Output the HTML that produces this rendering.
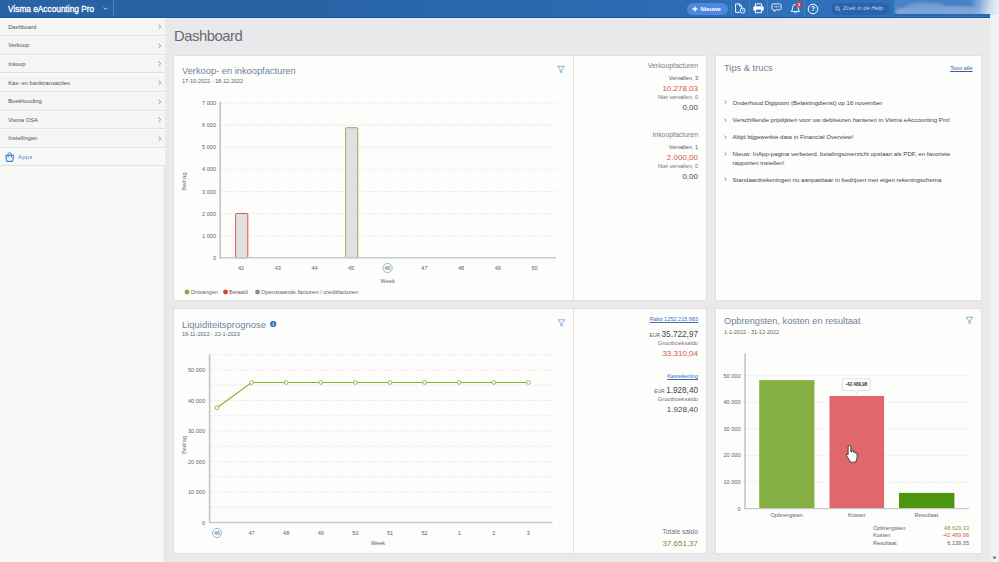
<!DOCTYPE html>
<html lang="nl">
<head>
<meta charset="utf-8">
<title>Visma eAccounting Pro - Dashboard</title>
<style>
*{box-sizing:border-box;margin:0;padding:0}
html,body{width:999px;height:562px;overflow:hidden}
body{position:relative;background:#e9e9eb;font-family:"Liberation Sans",sans-serif;color:#4a4a55;-webkit-font-smoothing:antialiased}
.abs{position:absolute}
/* top bar */
#top{position:absolute;left:0;top:0;width:990px;height:17.6px;background:linear-gradient(to right,#2861a4 0%,#2862a5 28%,#2a69ae 55%,#2e70ba 82%,#2f71bc 100%);border-bottom:1.8px solid #1156a8;overflow:hidden}
#brand{position:absolute;left:8px;top:3.6px;font-size:8.3px;color:#fff;-webkit-text-stroke:0.3px #fff;white-space:nowrap}
#brandsep{position:absolute;left:113px;top:0;width:1px;height:16px;background:#4f7fb9}
/* sidebar */
#side{position:absolute;left:0;top:17.5px;width:165px;height:545px;background:#f7f7f5;border-right:1px solid #e2e2e4}
.mi{position:absolute;left:0;width:165px;height:18.6px;border-bottom:1px solid #e1e1e3;border-top:1px solid #fbfbfb;background:#f5f5f3;font-size:5.75px;color:#53515b;padding-left:8.2px;line-height:17px;white-space:nowrap}
.mi svg{position:absolute;right:3.6px;top:5.6px}
/* cards */
.tsep{top:0;width:1px;height:16px;background:rgba(255,255,255,0.11)}
.card{position:absolute;background:#fdfdfb;border:1px solid #e0e0e2}
.ct{position:absolute;font-size:9.3px;color:#6f839f;white-space:nowrap;letter-spacing:0}
.cd{position:absolute;font-size:5.5px;color:#60606a;white-space:nowrap}
.r{position:absolute;right:0;white-space:nowrap;text-align:right}
svg text{font-family:"Liberation Sans",sans-serif}
</style>
</head>
<body>
<!-- TOPBAR -->
<div id="top">
  <div id="brand">Visma eAccounting Pro</div>
  <svg class="abs" style="left:102.6px;top:7.4px" width="5" height="3.4" viewBox="0 0 5 3.4"><path d="M0.7 0.6 L2.5 2.5 L4.3 0.6" fill="none" stroke="#d5e1f0" stroke-width="0.9"/></svg>
  <div id="brandsep"></div>
  <!-- Nieuwe button -->
  <div class="abs" style="left:687px;top:2.5px;width:41px;height:12.5px;border-radius:6.3px;background:#4c87e2"></div>
  <svg class="abs" style="left:691.5px;top:5.5px" width="6" height="6" viewBox="0 0 6 6"><path d="M3 0.4 V5.6 M0.4 3 H5.6" stroke="#fff" stroke-width="1.3" fill="none"/></svg>
  <div class="abs" style="left:700.6px;top:5.8px;font-size:5.9px;font-weight:bold;color:#fff;letter-spacing:-0.1px;white-space:nowrap">Nieuwe</div>
  <div class="abs tsep" style="left:730.5px"></div><div class="abs tsep" style="left:749px"></div><div class="abs tsep" style="left:767.3px"></div><div class="abs tsep" style="left:803.8px"></div>
  <!-- doc+clock icon -->
  <svg class="abs" style="left:734px;top:3px" width="13" height="11" viewBox="0 0 13 11"><path d="M1.6 0.9 H5.6 L7.6 2.9 V5.2 M1.6 0.9 V9.4 H5.6 M5.4 0.9 V3.1 H7.6" fill="none" stroke="#fff" stroke-width="0.95" stroke-linejoin="round"/><circle cx="8.6" cy="7.6" r="2.5" fill="#2c6db6" stroke="#fff" stroke-width="0.95"/><path d="M8.6 6.3 V7.7 H9.6" fill="none" stroke="#fff" stroke-width="0.7"/></svg>
  <!-- printer icon -->
  <svg class="abs" style="left:752px;top:3px" width="13" height="11" viewBox="0 0 13 11"><path d="M3.4 3.3 V0.9 H9.6 V3.3" fill="none" stroke="#fff" stroke-width="0.95"/><rect x="1.3" y="3.3" width="10.4" height="4.4" rx="1.2" fill="#fff"/><rect x="3.6" y="6.1" width="5.8" height="3.6" fill="#2c6db6" stroke="#fff" stroke-width="0.95"/></svg>
  <!-- chat icon -->
  <svg class="abs" style="left:771.3px;top:3.3px" width="11.9" height="10.1" viewBox="0 0 13 11"><path d="M2.4 1 H9.6 Q11 1 11 2.4 V6 Q11 7.4 9.6 7.4 H5.6 L3.6 9.6 V7.4 H2.4 Q1 7.4 1 6 V2.4 Q1 1 2.4 1 Z" fill="none" stroke="#fff" stroke-width="0.95" stroke-linejoin="round"/><path d="M3.4 4.2 H8.6" stroke="#dbe7f6" stroke-width="1.1" stroke-dasharray="1.4 0.5"/></svg>
  <!-- bell icon -->
  <svg class="abs" style="left:789px;top:1px" width="15" height="14" viewBox="0 0 15 14"><path d="M2.2 10.4 Q3.6 9.2 3.6 6.6 Q3.6 3.4 6.4 3.4 Q9.2 3.4 9.2 6.6 Q9.2 9.2 10.6 10.4 Z" fill="none" stroke="#fff" stroke-width="0.95" stroke-linejoin="round"/><path d="M5.3 11.6 Q6.4 12.6 7.5 11.6" fill="none" stroke="#fff" stroke-width="0.9"/><circle cx="10" cy="3.3" r="2.9" fill="#e2332f"/><text x="10" y="5" font-size="4.2" fill="#fff" text-anchor="middle" font-weight="bold">3</text></svg>
  <!-- help icon -->
  <svg class="abs" style="left:807.2px;top:2.5px" width="12" height="12" viewBox="0 0 12 12"><circle cx="6" cy="6" r="4.8" fill="none" stroke="#fff" stroke-width="1"/><text x="6" y="8.4" font-size="6.8" font-weight="bold" fill="#fff" text-anchor="middle">?</text></svg>
  <!-- search -->
  <div class="abs" style="left:830.5px;top:2.5px;width:59px;height:12.5px;border-radius:6.3px;background:#2b63aa"></div>
  <svg class="abs" style="left:835px;top:6px" width="6" height="6" viewBox="0 0 6 6"><circle cx="2.3" cy="2.3" r="1.7" fill="none" stroke="#c9d9ee" stroke-width="0.8"/><path d="M3.6 3.6 L5.4 5.2" stroke="#c9d9ee" stroke-width="0.9"/></svg>
  <div class="abs" style="left:843px;top:5.3px;font-size:5.7px;font-style:italic;color:#c3d3ea;white-space:nowrap">Zoek in de Help</div>
  <!-- blurred user area -->
  <div class="abs" style="left:894px;top:-2px;width:100px;height:16.4px;background:linear-gradient(to right,#4982c5 0%,#4680c5 70%,#5c8fcd 86%,#a9c3e3 95%,#d5e1f0 100%)"></div>
  <div class="abs" style="left:896px;top:5.5px;width:84px;height:9.4px;background:#7ea5d8;filter:blur(1.3px);border-radius:45% 30% 0 0"></div>
  <div class="abs" style="left:905px;top:3.4px;width:40px;height:6px;background:#749fd4;filter:blur(1.6px);border-radius:50%"></div>
  <div class="abs" style="left:972px;top:0px;width:20px;height:14.4px;background:linear-gradient(100deg,rgba(125,164,214,0) 0%,rgba(134,171,217,0.9) 35%,#b9cde7 70%,#dfe8f2 100%);filter:blur(0.7px)"></div>
  <div class="abs" style="left:894px;top:14.4px;width:96px;height:1.6px;background:#2b66b2"></div>
</div>
<!-- scrollbar -->
<div class="abs" style="left:990px;top:0;width:9px;height:562px;background:#f1f1f2"></div>
<div class="abs" style="left:990px;top:0;width:9px;height:15px;background:linear-gradient(to right,#cfdcee,#e9eff6)"></div>
<svg class="abs" style="left:991.5px;top:555.5px" width="5" height="4" viewBox="0 0 5 4"><path d="M0.5 0.7 H4.5 L2.5 3.3 Z" fill="#606066"/></svg>

<!-- SIDEBAR -->
<div id="side"></div>
<div class="mi" style="top:17.7px">Dashboard<svg width="3.4" height="5.4" viewBox="0 0 3.4 5.4"><path d="M0.6 0.6 L2.8 2.7 L0.6 4.8" fill="none" stroke="#908e8e" stroke-width="1"/></svg></div>
<div class="mi" style="top:36.3px">Verkoop<svg width="3.4" height="5.4" viewBox="0 0 3.4 5.4"><path d="M0.6 0.6 L2.8 2.7 L0.6 4.8" fill="none" stroke="#908e8e" stroke-width="1"/></svg></div>
<div class="mi" style="top:54.9px">Inkoop<svg width="3.4" height="5.4" viewBox="0 0 3.4 5.4"><path d="M0.6 0.6 L2.8 2.7 L0.6 4.8" fill="none" stroke="#908e8e" stroke-width="1"/></svg></div>
<div class="mi" style="top:73.5px">Kas- en banktransacties<svg width="3.4" height="5.4" viewBox="0 0 3.4 5.4"><path d="M0.6 0.6 L2.8 2.7 L0.6 4.8" fill="none" stroke="#908e8e" stroke-width="1"/></svg></div>
<div class="mi" style="top:92.1px">Boekhouding<svg width="3.4" height="5.4" viewBox="0 0 3.4 5.4"><path d="M0.6 0.6 L2.8 2.7 L0.6 4.8" fill="none" stroke="#908e8e" stroke-width="1"/></svg></div>
<div class="mi" style="top:110.7px">Visma OSA<svg width="3.4" height="5.4" viewBox="0 0 3.4 5.4"><path d="M0.6 0.6 L2.8 2.7 L0.6 4.8" fill="none" stroke="#908e8e" stroke-width="1"/></svg></div>
<div class="mi" style="top:129.3px">Instellingen<svg width="3.4" height="5.4" viewBox="0 0 3.4 5.4"><path d="M0.6 0.6 L2.8 2.7 L0.6 4.8" fill="none" stroke="#908e8e" stroke-width="1"/></svg></div>
<div class="mi" style="top:147.9px;background:#f8f8f6;color:#5580c6;padding-left:18px;letter-spacing:0.5px;font-size:5.6px">Apps<svg style="left:5px;top:3.4px;right:auto" width="9.4" height="10" viewBox="0 0 9.4 10"><path d="M0.8 3.4 H8.6 L7.8 8.6 Q7.7 9.4 6.9 9.4 H2.5 Q1.7 9.4 1.6 8.6 Z" fill="none" stroke="#3d7fd6" stroke-width="1.1" stroke-linejoin="round"/><path d="M3.1 5.6 V2.4 Q3.1 0.7 4.7 0.7 Q6.3 0.7 6.3 2.4 V5.6" fill="none" stroke="#3d7fd6" stroke-width="1"/></svg></div>

<!-- MAIN -->
<div class="abs" style="left:174px;top:27.5px;font-size:14.8px;color:#696870;letter-spacing:-0.45px">Dashboard</div>


<!-- CARDS -->
<div class="card" style="left:173px;top:55px;width:534px;height:246px"><div class="abs" style="left:399px;top:0;width:1px;height:244px;background:#e0e0e2"></div></div>
<div class="card" style="left:715px;top:55px;width:267px;height:246px"></div>
<div class="card" style="left:173px;top:308px;width:534px;height:246px"><div class="abs" style="left:399px;top:0;width:1px;height:244px;background:#e0e0e2"></div></div>
<div class="card" style="left:715px;top:308px;width:267px;height:246px"></div>

<!-- card 1 text -->
<div class="ct" style="left:182px;top:65.6px">Verkoop- en inkoopfacturen</div>
<div class="cd" style="left:182px;top:77.5px">17-10-2022 - 18-12-2022</div>
<!-- card 2 text -->
<div class="ct" style="left:182px;top:318.5px;font-size:9.45px">Liquiditeitsprognose</div>
<div class="cd" style="left:182px;top:331px">16-11-2022 - 22-1-2023</div>
<!-- card 3 text -->
<div class="ct" style="left:724px;top:62.5px;color:#71829b">Tips &amp; trucs</div>
<!-- card 4 text -->
<div class="ct" style="left:724px;top:315.5px;font-size:9.24px">Opbrengsten, kosten en resultaat</div>
<div class="cd" style="left:724px;top:328.5px">1-1-2022 - 31-12-2022</div>


<!-- card 1 side panel -->
<div class="abs" style="left:574px;top:0;width:124px;height:300px;color:#55555f">
 <div class="r" style="top:62.2px;font-size:6.9px;color:#7d7d88">Verkoopfacturen</div>
 <div class="r" style="top:74.5px;font-size:5.6px">Vervallen, 3</div>
 <div class="r" style="top:84px;font-size:8px;color:#d2553f">10.278,03</div>
 <div class="r" style="top:94px;font-size:5.6px;color:#70707c">Niet vervallen, 0</div>
 <div class="r" style="top:102.5px;font-size:8px;color:#45454f">0,00</div>
 <div class="r" style="top:131px;font-size:6.9px;color:#7d7d88">Inkoopfacturen</div>
 <div class="r" style="top:144px;font-size:5.6px">Vervallen, 1</div>
 <div class="r" style="top:152.8px;font-size:8px;color:#d2553f">2.000,00</div>
 <div class="r" style="top:162.7px;font-size:5.6px;color:#70707c">Niet vervallen, 0</div>
 <div class="r" style="top:172px;font-size:8px;color:#45454f">0,00</div>
</div>

<!-- card 2 side panel -->
<div class="abs" style="left:574px;top:0;width:124px;height:562px;color:#55555f">
 <div class="r" style="top:316.3px;font-size:5.5px;color:#3f6fb5;text-decoration:underline;text-decoration-thickness:0.5px">Rabo 1252 215 983</div>
 <div class="r" style="top:330px;font-size:8.2px;color:#45454f"><span style="font-size:5px;color:#60606a">EUR </span>35.722,97</div>
 <div class="r" style="top:339.5px;font-size:5.7px;color:#70707c">Grootboeksaldo</div>
 <div class="r" style="top:348.8px;font-size:8px;color:#d2553f">33.310,04</div>
 <div class="r" style="top:373px;font-size:5.55px;color:#3f6fb5;text-decoration:underline;text-decoration-thickness:0.5px">Kasrekening</div>
 <div class="r" style="top:385.5px;font-size:8.2px;color:#45454f"><span style="font-size:5px;color:#60606a">EUR </span>1.928,40</div>
 <div class="r" style="top:395.8px;font-size:5.7px;color:#70707c">Grootboeksaldo</div>
 <div class="r" style="top:405px;font-size:8px;color:#45454f">1.928,40</div>
 <div class="r" style="top:528px;font-size:6.7px;color:#70707c">Totale saldo</div>
 <div class="r" style="top:538.5px;font-size:8px;color:#6f8a3d">37.651,37</div>
</div>
<!-- card 3 tips -->
<div class="abs" style="left:950px;top:64.5px;width:22.6px;text-align:right;font-size:5.6px;color:#3a5f9a;text-decoration:underline;text-decoration-thickness:0.5px;white-space:nowrap">Toon alle</div>
<div class="abs" style="left:732.5px;top:99.0px;font-size:6.12px;line-height:8.4px;color:#3f3f49;white-space:nowrap">Onderhoud Digipoort (Belastingdienst) op 16 november</div>
<svg class="abs" style="left:724px;top:100.4px" width="2.9" height="4.6" viewBox="0 0 2.9 4.6"><path d="M0.5 0.5 L2.3 2.3 L0.5 4.1" fill="none" stroke="#3f7fd0" stroke-width="0.8"/></svg>
<div class="abs" style="left:732.5px;top:116.1px;font-size:6.12px;line-height:8.4px;color:#3f3f49;white-space:nowrap">Verschillende prijslijsten voor uw debiteuren hanteren in Visma eAccounting Pro!</div>
<svg class="abs" style="left:724px;top:117.5px" width="2.9" height="4.6" viewBox="0 0 2.9 4.6"><path d="M0.5 0.5 L2.3 2.3 L0.5 4.1" fill="none" stroke="#3f7fd0" stroke-width="0.8"/></svg>
<div class="abs" style="left:732.5px;top:133.2px;font-size:6.12px;line-height:8.4px;color:#3f3f49;white-space:nowrap">Altijd bijgewerkte data in Financial Overview!</div>
<svg class="abs" style="left:724px;top:134.6px" width="2.9" height="4.6" viewBox="0 0 2.9 4.6"><path d="M0.5 0.5 L2.3 2.3 L0.5 4.1" fill="none" stroke="#3f7fd0" stroke-width="0.8"/></svg>
<div class="abs" style="left:732.5px;top:150.2px;font-size:6.12px;line-height:8.4px;color:#3f3f49;white-space:nowrap">Nieuw: InApp-pagina verbeterd, betalingsoverzicht opslaan als PDF, en favoriete<br>rapporten instellen!</div>
<svg class="abs" style="left:724px;top:151.6px" width="2.9" height="4.6" viewBox="0 0 2.9 4.6"><path d="M0.5 0.5 L2.3 2.3 L0.5 4.1" fill="none" stroke="#3f7fd0" stroke-width="0.8"/></svg>
<div class="abs" style="left:732.5px;top:175.7px;font-size:6.12px;line-height:8.4px;color:#3f3f49;white-space:nowrap">Standaardrekeningen nu aanpasbaar in bedrijven met eigen rekeningschema</div>
<svg class="abs" style="left:724px;top:177.1px" width="2.9" height="4.6" viewBox="0 0 2.9 4.6"><path d="M0.5 0.5 L2.3 2.3 L0.5 4.1" fill="none" stroke="#3f7fd0" stroke-width="0.8"/></svg>
<svg id="gfx" class="abs" style="left:0;top:0" width="999" height="562" viewBox="0 0 999 562">
<!-- chart 1 -->
<g font-size="5.6" fill="#63636e">
<line x1="221" x2="556" y1="235.7" y2="235.7" stroke="#e8e8e9" stroke-width="0.8" stroke-dasharray="2.2 1"/>
<line x1="221" x2="556" y1="213.6" y2="213.6" stroke="#e8e8e9" stroke-width="0.8" stroke-dasharray="2.2 1"/>
<line x1="221" x2="556" y1="191.5" y2="191.5" stroke="#e8e8e9" stroke-width="0.8" stroke-dasharray="2.2 1"/>
<line x1="221" x2="556" y1="169.4" y2="169.4" stroke="#e8e8e9" stroke-width="0.8" stroke-dasharray="2.2 1"/>
<line x1="221" x2="556" y1="147.3" y2="147.3" stroke="#e8e8e9" stroke-width="0.8" stroke-dasharray="2.2 1"/>
<line x1="221" x2="556" y1="125.2" y2="125.2" stroke="#e8e8e9" stroke-width="0.8" stroke-dasharray="2.2 1"/>
<line x1="221" x2="556" y1="103.1" y2="103.1" stroke="#e8e8e9" stroke-width="0.8" stroke-dasharray="2.2 1"/>
<text x="216" y="259.8" text-anchor="end">0</text>
<text x="216" y="237.7" text-anchor="end">1 000</text>
<text x="216" y="215.6" text-anchor="end">2 000</text>
<text x="216" y="193.5" text-anchor="end">3 000</text>
<text x="216" y="171.4" text-anchor="end">4 000</text>
<text x="216" y="149.3" text-anchor="end">5 000</text>
<text x="216" y="127.2" text-anchor="end">6 000</text>
<text x="216" y="105.1" text-anchor="end">7 000</text>
<rect x="235.6" y="213.5" width="12.2" height="44.3" fill="#e0e0e1" stroke="#e0453a" stroke-width="0.9" rx="0.8"/>
<rect x="345.6" y="127.7" width="12.2" height="130.1" fill="#e0e0e1" stroke="#7fb13d" stroke-width="0.9" rx="0.8"/>
<line x1="220.2" x2="220.2" y1="102" y2="258.40000000000003" stroke="#c4c4c6" stroke-width="1.6"/>
<line x1="219.6" x2="556" y1="257.8" y2="257.8" stroke="#c9c9cb" stroke-width="1.4"/>
<text x="241" y="270" text-anchor="middle">42</text>
<text x="277.8" y="270" text-anchor="middle">43</text>
<text x="314.5" y="270" text-anchor="middle">44</text>
<text x="351" y="270" text-anchor="middle">45</text>
<text x="387.6" y="270" text-anchor="middle">46</text>
<text x="424.4" y="270" text-anchor="middle">47</text>
<text x="461" y="270" text-anchor="middle">48</text>
<text x="497.8" y="270" text-anchor="middle">49</text>
<text x="534.5" y="270" text-anchor="middle">50</text>
<circle cx="387.6" cy="268" r="4.6" fill="none" stroke="#5e9bd8" stroke-width="0.7"/>
<text x="387.6" y="282.5" text-anchor="middle">Week</text>
<text transform="translate(186.3,181.5) rotate(-90)" text-anchor="middle" fill="#70707a">Bedrag</text>
<circle cx="187" cy="292" r="2.4" fill="#7bb33a"/><text x="190.5" y="294">Ontvangen</text>
<circle cx="225.5" cy="292" r="2.4" fill="#e23b33"/><text x="229" y="294">Betaald</text>
<circle cx="257.5" cy="292" r="2.4" fill="#8b8b8b"/><text x="261" y="294" font-size="5.8">Openstaande facturen / creditfacturen</text>
</g>
<!-- chart 2 -->
<g font-size="5.6" fill="#63636e">
<line x1="210.5" x2="552.5" y1="507.2" y2="507.2" stroke="#e8e8e9" stroke-width="0.8" stroke-dasharray="2.2 1"/>
<line x1="210.5" x2="552.5" y1="492.0" y2="492.0" stroke="#e8e8e9" stroke-width="0.8" stroke-dasharray="2.2 1"/>
<line x1="210.5" x2="552.5" y1="476.8" y2="476.8" stroke="#e8e8e9" stroke-width="0.8" stroke-dasharray="2.2 1"/>
<line x1="210.5" x2="552.5" y1="461.5" y2="461.5" stroke="#e8e8e9" stroke-width="0.8" stroke-dasharray="2.2 1"/>
<line x1="210.5" x2="552.5" y1="446.2" y2="446.2" stroke="#e8e8e9" stroke-width="0.8" stroke-dasharray="2.2 1"/>
<line x1="210.5" x2="552.5" y1="431.0" y2="431.0" stroke="#e8e8e9" stroke-width="0.8" stroke-dasharray="2.2 1"/>
<line x1="210.5" x2="552.5" y1="415.8" y2="415.8" stroke="#e8e8e9" stroke-width="0.8" stroke-dasharray="2.2 1"/>
<line x1="210.5" x2="552.5" y1="400.5" y2="400.5" stroke="#e8e8e9" stroke-width="0.8" stroke-dasharray="2.2 1"/>
<line x1="210.5" x2="552.5" y1="385.2" y2="385.2" stroke="#e8e8e9" stroke-width="0.8" stroke-dasharray="2.2 1"/>
<line x1="210.5" x2="552.5" y1="370.0" y2="370.0" stroke="#e8e8e9" stroke-width="0.8" stroke-dasharray="2.2 1"/>
<line x1="210.5" x2="552.5" y1="354.8" y2="354.8" stroke="#e8e8e9" stroke-width="0.8" stroke-dasharray="2.2 1"/>
<text x="205" y="524.5" text-anchor="end">0</text>
<text x="205" y="494.0" text-anchor="end">10 000</text>
<text x="205" y="463.5" text-anchor="end">20 000</text>
<text x="205" y="433.0" text-anchor="end">30 000</text>
<text x="205" y="402.5" text-anchor="end">40 000</text>
<text x="205" y="372.0" text-anchor="end">50 000</text>
<line x1="209.6" x2="209.6" y1="354.5" y2="523.1" stroke="#c4c4c6" stroke-width="1.6"/>
<line x1="209" x2="552.5" y1="522.5" y2="522.5" stroke="#c9c9cb" stroke-width="1.4"/>
<text x="217.0" y="535" text-anchor="middle">46</text>
<text x="251.6" y="535" text-anchor="middle">47</text>
<text x="286.2" y="535" text-anchor="middle">48</text>
<text x="320.8" y="535" text-anchor="middle">49</text>
<text x="355.4" y="535" text-anchor="middle">50</text>
<text x="390.0" y="535" text-anchor="middle">51</text>
<text x="424.6" y="535" text-anchor="middle">52</text>
<text x="459.2" y="535" text-anchor="middle">1</text>
<text x="493.8" y="535" text-anchor="middle">2</text>
<text x="528.4" y="535" text-anchor="middle">3</text>
<circle cx="217" cy="533" r="4.6" fill="none" stroke="#5e9bd8" stroke-width="0.7"/>
<text x="378" y="545" text-anchor="middle">Week</text>
<text transform="translate(186,445) rotate(-90)" text-anchor="middle" fill="#70707a">Bedrag</text>
<polyline points="217.0,407.7 251.6,382.5 286.2,382.5 320.8,382.5 355.4,382.5 390.0,382.5 424.6,382.5 459.2,382.5 493.8,382.5 528.4,382.5" fill="none" stroke="#80b63c" stroke-width="1.2"/>
<circle cx="217.0" cy="407.7" r="1.9" fill="#fdfdfb" stroke="#7dad3c" stroke-width="0.8"/>
<circle cx="251.6" cy="382.5" r="1.9" fill="#fdfdfb" stroke="#7dad3c" stroke-width="0.8"/>
<circle cx="286.2" cy="382.5" r="1.9" fill="#fdfdfb" stroke="#7dad3c" stroke-width="0.8"/>
<circle cx="320.8" cy="382.5" r="1.9" fill="#fdfdfb" stroke="#7dad3c" stroke-width="0.8"/>
<circle cx="355.4" cy="382.5" r="1.9" fill="#fdfdfb" stroke="#7dad3c" stroke-width="0.8"/>
<circle cx="390.0" cy="382.5" r="1.9" fill="#fdfdfb" stroke="#7dad3c" stroke-width="0.8"/>
<circle cx="424.6" cy="382.5" r="1.9" fill="#fdfdfb" stroke="#7dad3c" stroke-width="0.8"/>
<circle cx="459.2" cy="382.5" r="1.9" fill="#fdfdfb" stroke="#7dad3c" stroke-width="0.8"/>
<circle cx="493.8" cy="382.5" r="1.9" fill="#fdfdfb" stroke="#7dad3c" stroke-width="0.8"/>
<circle cx="528.4" cy="382.5" r="1.9" fill="#fdfdfb" stroke="#7dad3c" stroke-width="0.8"/>
</g>
<circle cx="273.2" cy="324" r="3.1" fill="#2f6fc4"/><text x="273.2" y="326" font-size="5" font-weight="bold" fill="#fff" text-anchor="middle">i</text>
<!-- chart 4 -->
<g font-size="5.6" fill="#63636e">
<line x1="746" x2="969" y1="482.0" y2="482.0" stroke="#e8e8e9" stroke-width="0.8" stroke-dasharray="2.2 1"/>
<line x1="746" x2="969" y1="455.4" y2="455.4" stroke="#e8e8e9" stroke-width="0.8" stroke-dasharray="2.2 1"/>
<line x1="746" x2="969" y1="428.8" y2="428.8" stroke="#e8e8e9" stroke-width="0.8" stroke-dasharray="2.2 1"/>
<line x1="746" x2="969" y1="402.2" y2="402.2" stroke="#e8e8e9" stroke-width="0.8" stroke-dasharray="2.2 1"/>
<line x1="746" x2="969" y1="375.6" y2="375.6" stroke="#e8e8e9" stroke-width="0.8" stroke-dasharray="2.2 1"/>
<text x="740.5" y="510.6" text-anchor="end">0</text>
<text x="740.5" y="484.0" text-anchor="end">10 000</text>
<text x="740.5" y="457.4" text-anchor="end">20 000</text>
<text x="740.5" y="430.8" text-anchor="end">30 000</text>
<text x="740.5" y="404.2" text-anchor="end">40 000</text>
<text x="740.5" y="377.6" text-anchor="end">50 000</text>
<rect x="759.2" y="380.1" width="55.2" height="128.5" fill="#85b044"/>
<rect x="829.5" y="396" width="54.6" height="112.6" fill="#e0686c"/>
<rect x="899" y="492.9" width="55.4" height="15.7" fill="#4c960f"/>
<line x1="745.1" x2="745.1" y1="353.5" y2="509.20000000000005" stroke="#c4c4c6" stroke-width="1.6"/>
<line x1="744.5" x2="969" y1="508.6" y2="508.6" stroke="#c9c9cb" stroke-width="1.4"/>
<text x="786.7" y="517" text-anchor="middle">Opbrengsten</text>
<text x="856.7" y="517" text-anchor="middle">Kosten</text>
<text x="926.4" y="517" text-anchor="middle">Resultaat</text>
<path d="M843 378.7 H869.6 Q870.2 378.7 870.2 379.3 V389.9 Q870.2 390.5 869.6 390.5 H859 L856.7 393.6 L854.4 390.5 H843 Q842.4 390.5 842.4 389.9 V379.3 Q842.4 378.7 843 378.7 Z" fill="#fdfdfd" stroke="#cfcfd2" stroke-width="0.6"/>
<text x="856.4" y="386.3" text-anchor="middle" font-size="4.6" font-weight="bold" fill="#333">-42.489,98</text>
<text x="873" y="530">Opbrengsten</text><text x="969" y="530" text-anchor="end" fill="#7a9a4a">48.629,33</text>
<text x="873" y="537.3">Kosten</text><text x="969" y="537.3" text-anchor="end" fill="#d46a3a">-42.489,98</text>
<text x="873" y="544.6">Resultaat</text><text x="969" y="544.6" text-anchor="end" fill="#5a5a66">6.139,35</text>
</g>
<g transform="translate(845.8,445) scale(1.16)"><path d="M3.2 0.6 Q4.4 0.6 4.4 1.8 V6 L5 6 V5.2 Q5.8 4.6 6.6 5.2 V6.2 Q7.4 5.6 8.2 6.3 V7 Q9 6.5 9.7 7.2 V10.5 Q9.7 12.2 8.8 13.6 V14.8 H3.6 V13.6 Q2.6 12.4 1.4 10.4 Q0.4 9 0.5 8.2 Q1.2 7.6 2 8.4 V1.8 Q2 0.6 3.2 0.6 Z" fill="#fff" stroke="#222" stroke-width="0.7" stroke-linejoin="round"/></g>
<path d="M557.7 66.4 H564.3 L561.75 69.9 V72.7 L560.25 71.9 V69.9 Z" fill="none" stroke="#5b95e2" stroke-width="0.75" stroke-linejoin="round"/>
<path d="M558.1 319.8 H564.7 L562.15 323.3 V326.1 L560.65 325.3 V323.3 Z" fill="none" stroke="#5b95e2" stroke-width="0.75" stroke-linejoin="round"/>
<path d="M966.2 317.2 H972.8 L970.25 320.7 V323.5 L968.75 322.7 V320.7 Z" fill="none" stroke="#5b95e2" stroke-width="0.75" stroke-linejoin="round"/>
<!--GFXEND-->
</svg>
</body>
</html>
